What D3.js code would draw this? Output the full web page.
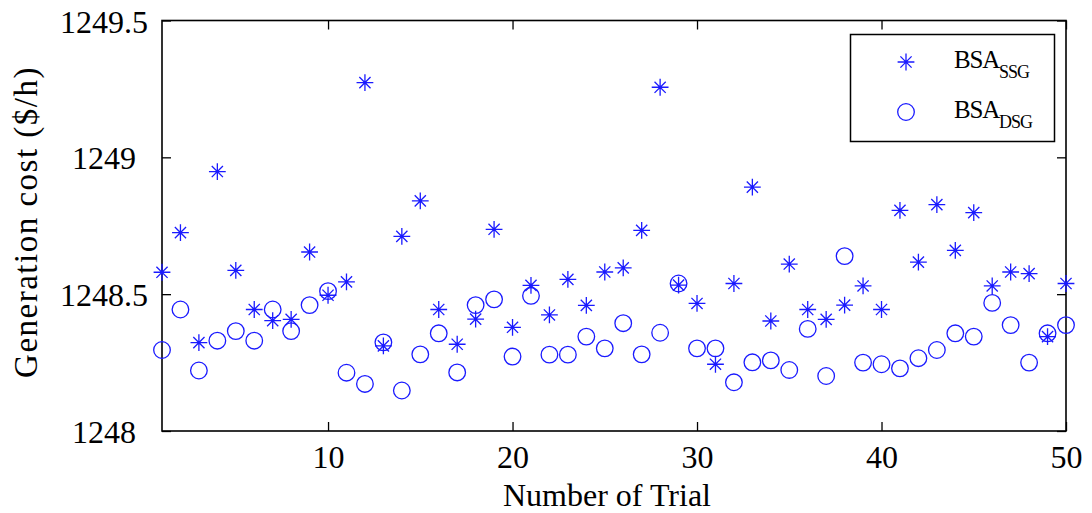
<!DOCTYPE html>
<html>
<head>
<meta charset="utf-8">
<script src="https://cdn.jsdelivr.net/npm/d3@7/dist/d3.min.js"></script>
<style>
  html, body { margin: 0; padding: 0; background: #fff; }
</style>
</head>
<body>
<svg id="chart" width="1092" height="513"></svg>
<script>
// ---- data ----
const trials = d3.range(1, 51);
const ssgValues = [
  1248.580, 1248.725, 1248.323, 1248.948, 1248.587, 1248.444, 1248.403, 1248.408, 1248.654, 1248.496,
  1248.545, 1249.273, 1248.311, 1248.711, 1248.841, 1248.444, 1248.317, 1248.409, 1248.737, 1248.379,
  1248.532, 1248.424, 1248.554, 1248.459, 1248.581, 1248.596, 1248.733, 1249.256, 1248.533, 1248.466,
  1248.244, 1248.539, 1248.891, 1248.402, 1248.610, 1248.444, 1248.408, 1248.460, 1248.530, 1248.444,
  1248.806, 1248.617, 1248.827, 1248.660, 1248.798, 1248.530, 1248.581, 1248.575, 1248.345, 1248.539
];
const dsgValues = [
  1248.296, 1248.444, 1248.221, 1248.330, 1248.365, 1248.330, 1248.444, 1248.365, 1248.460, 1248.511,
  1248.213, 1248.172, 1248.324, 1248.148, 1248.280, 1248.357, 1248.214, 1248.460, 1248.481, 1248.272,
  1248.494, 1248.279, 1248.279, 1248.345, 1248.302, 1248.394, 1248.280, 1248.359, 1248.539, 1248.302,
  1248.302, 1248.178, 1248.251, 1248.258, 1248.223, 1248.373, 1248.201, 1248.639, 1248.250, 1248.244,
  1248.229, 1248.266, 1248.296, 1248.357, 1248.345, 1248.468, 1248.387, 1248.250, 1248.357, 1248.387
];
const xTicks = [10, 20, 30, 40, 50];
const yTicks = [1248, 1248.5, 1249, 1249.5];
const yTickLabels = ["1248", "1248.5", "1249", "1249.5"];
const seriesNames = [["BSA", "SSG"], ["BSA", "DSG"]];
const xLabel = "Number of Trial";
const yLabel = "Generation cost ($/h)";

// ---- layout ----
const L = 162, R = 1066, T = 20.5, B = 431;
const blue = "#1a1aff";
const FONT = "Liberation Serif, Tinos, Times New Roman, Times, Noto Serif, DejaVu Serif, FreeSerif, Nimbus Roman, serif";

const svg = d3.select("#chart").attr("font-family", FONT);
const x = d3.scaleLinear().domain([1, 50]).range([L, R]);
const y = d3.scaleLinear().domain([1248, 1249.5]).range([B, T]);

function starPath(a, b) {
  return `M${-a},0L${a},0M0,${-a}L0,${a}M${-b},${-b}L${b},${b}M${-b},${b}L${b},${-b}`;
}
const STAR = starPath(8.4, 5.6);

const fontSize = 32;
function styleTicks(g) {
  g.select(".domain").remove();
  g.attr("font-family", FONT);
  g.selectAll("line").attr("stroke", "#000").attr("stroke-width", 1.3);
}
const gx = svg.append("g").attr("transform", `translate(0,${B})`)
  .call(d3.axisBottom(x).tickValues(xTicks).tickSizeInner(-9).tickSizeOuter(0).tickFormat(d3.format("d")));
styleTicks(gx);
gx.selectAll("text").attr("font-size", fontSize).attr("fill", "#000")
  .attr("y", 37).attr("dy", 0);

const gxt = svg.append("g").attr("transform", `translate(0,${T})`)
  .call(d3.axisTop(x).tickValues(xTicks).tickSizeInner(-9).tickSizeOuter(0).tickFormat(""));
styleTicks(gxt);

const gy = svg.append("g").attr("transform", `translate(${L},0)`)
  .call(d3.axisLeft(y).tickValues(yTicks).tickSizeInner(-9).tickSizeOuter(0)
    .tickFormat((d, i) => yTickLabels[i]));
styleTicks(gy);
gy.selectAll("text").attr("font-size", fontSize).attr("fill", "#000")
  .attr("text-anchor", "middle").attr("x", -58).attr("dy", "0.36em");

const gyr = svg.append("g").attr("transform", `translate(${R},0)`)
  .call(d3.axisRight(y).tickValues(yTicks).tickSizeInner(-9).tickSizeOuter(0).tickFormat(""));
styleTicks(gyr);

svg.append("rect").attr("x", L).attr("y", T).attr("width", R - L).attr("height", B - T)
  .attr("fill", "none").attr("stroke", "#000").attr("stroke-width", 1.6);

const pts = svg.append("g");
pts.selectAll("path.ssg").data(ssgValues).join("path").attr("class", "ssg")
  .attr("d", STAR)
  .attr("transform", (d, i) => `translate(${x(trials[i])},${y(d)})`)
  .attr("stroke", blue).attr("stroke-width", 1.3).attr("fill", "none");
pts.selectAll("circle.dsg").data(dsgValues).join("circle").attr("class", "dsg")
  .attr("cx", (d, i) => x(trials[i])).attr("cy", d => y(d)).attr("r", 8.3)
  .attr("stroke", blue).attr("stroke-width", 1.3).attr("fill", "none");

svg.append("text").attr("x", 607).attr("y", 506).attr("text-anchor", "middle")
  .attr("font-size", fontSize).attr("fill", "#000").text(xLabel);
svg.append("text").attr("transform", `translate(37,222) rotate(-90)`).attr("text-anchor", "middle")
  .attr("font-size", 33).attr("letter-spacing", 1.5).attr("fill", "#000").text(yLabel);

const lg = svg.append("g");
lg.append("rect").attr("x", 850.5).attr("y", 34.5).attr("width", 204).attr("height", 107)
  .attr("fill", "#fff").attr("stroke", "#000").attr("stroke-width", 1.5);
const legendRows = [{ y: 62, sym: "star" }, { y: 112, sym: "circle" }];
legendRows.forEach((r, i) => {
  if (r.sym === "star") {
    lg.append("path").attr("d", STAR).attr("transform", `translate(906,${r.y})`)
      .attr("stroke", blue).attr("stroke-width", 1.3).attr("fill", "none");
  } else {
    lg.append("circle").attr("cx", 906).attr("cy", r.y).attr("r", 8.3)
      .attr("stroke", blue).attr("stroke-width", 1.3).attr("fill", "none");
  }
  const t = lg.append("text").attr("x", 954).attr("y", r.y + 5.5)
    .attr("font-size", 25).attr("fill", "#000").attr("letter-spacing", -1.2);
  t.append("tspan").text(seriesNames[i][0]);
  t.append("tspan").attr("font-size", 18).attr("dy", 10.5).attr("letter-spacing", -1).text(seriesNames[i][1]);
});
</script>
</body>
</html>
